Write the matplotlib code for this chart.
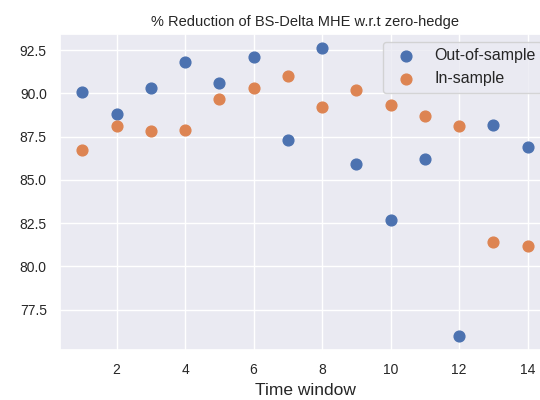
import matplotlib
matplotlib.use("Agg")
import matplotlib.pyplot as plt
import seaborn as sns

windows = list(range(1, 15))
out_of_sample = [90.1, 88.8, 90.3, 91.8, 90.6, 92.1, 87.3, 92.6, 85.9, 82.7, 86.2, 76.0, 88.2, 86.9]
in_sample = [86.7, 88.1, 87.8, 87.9, 89.7, 90.3, 91.0, 89.2, 90.2, 89.3, 88.7, 88.1, 81.4, 81.2]

sns.set_theme(style="darkgrid")
plt.rcParams['font.family'] = ['Liberation Sans', 'DejaVu Sans']

fig = plt.figure(figsize=(5.4, 4), dpi=100)
ax = fig.add_axes([60 / 540, 50 / 400, 490 / 540, 316 / 400])

ax.scatter(windows, out_of_sample, s=60, label="Out-of-sample")
ax.scatter(windows, in_sample, s=60, label="In-sample")

ax.set_title("% Reduction of BS-Delta MHE w.r.t zero-hedge", fontsize=10.5)
ax.set_xlabel("Time window", fontsize=12.5)
ax.tick_params(labelsize=10)
ax.legend(loc="upper right", fontsize=11.5)

fig.savefig("out.png", dpi=100)
